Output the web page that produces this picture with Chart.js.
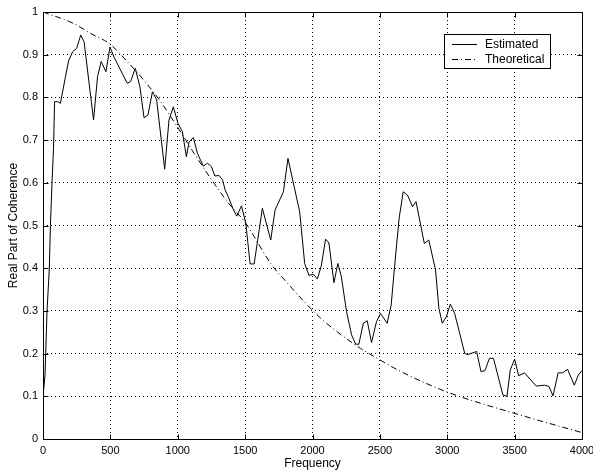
<!DOCTYPE html>
<html>
<head>
<meta charset="utf-8">
<script src="https://cdn.jsdelivr.net/npm/chart.js@4.4.0/dist/chart.umd.min.js"></script>
<style>
  html, body { margin: 0; padding: 0; background: #fff; }
  #wrap { width: 593px; height: 470px; position: relative; }
</style>
</head>
<body>
<div id="wrap"><canvas id="c" width="593" height="470"></canvas></div>
<script>
// ---- data ----
const estFreq = [0, 15, 30, 47, 55, 67, 78, 86, 110, 129, 141, 190, 220, 250, 280, 305, 375, 405, 432, 467, 497, 526, 625, 650, 685, 719, 750, 779, 812, 843, 903, 935, 967, 1002, 1034, 1064, 1084, 1116, 1146, 1190, 1220, 1250, 1275, 1307, 1332, 1352,
  1374, 1414, 1438, 1473, 1505, 1537, 1567, 1628, 1690, 1722, 1784, 1818, 1905, 1942, 1974, 2006, 2036, 2065, 2097, 2122, 2159, 2188, 2213, 2253, 2290, 2320, 2344, 2377, 2406, 2438, 2475, 2505, 2554, 2584, 2609,
  2643, 2673, 2705, 2743, 2768, 2830, 2863, 2913, 2938, 2963, 2993, 3023, 3055, 3130, 3155, 3218, 3250, 3280, 3313, 3343, 3413, 3443, 3468, 3500, 3530, 3573, 3660, 3723, 3755, 3785, 3823, 3855, 3893, 3943, 3973, 4000];
const estValue = [0.10, 0.15, 0.30, 0.40, 0.50, 0.60, 0.68, 0.79, 0.79, 0.786, 0.806, 0.886, 0.907, 0.915, 0.946, 0.93, 0.747, 0.849, 0.884, 0.86, 0.918, 0.895, 0.833, 0.837, 0.868, 0.825, 0.752, 0.759, 0.813, 0.795, 0.632, 0.747, 0.778, 0.739, 0.72, 0.661, 0.696, 0.706, 0.669, 0.639, 0.646, 0.638, 0.616, 0.617, 0.607, 0.583,
  0.568, 0.536, 0.522, 0.546, 0.505, 0.41, 0.41, 0.54, 0.466, 0.536, 0.579, 0.657, 0.532, 0.411, 0.383, 0.386, 0.375, 0.405, 0.468, 0.459, 0.366, 0.411, 0.382, 0.298, 0.244, 0.222, 0.222, 0.271, 0.277, 0.226, 0.275, 0.294, 0.271, 0.314, 0.404,
  0.517, 0.579, 0.571, 0.544, 0.556, 0.458, 0.466, 0.396, 0.306, 0.271, 0.286, 0.316, 0.294, 0.2, 0.198, 0.205, 0.158, 0.16, 0.189, 0.189, 0.103, 0.1, 0.162, 0.187, 0.148, 0.155, 0.124, 0.126, 0.123, 0.101, 0.155, 0.155, 0.163, 0.126, 0.15, 0.16];
const theoFreq = [0, 228, 352, 496, 625, 749, 873, 997, 1121, 1245, 1370, 1505, 1567, 1690, 1814, 1937, 2060, 2184, 2357, 2480, 2643, 3000, 3500, 4000];
const theoValue = [1.0, 0.973, 0.95, 0.925, 0.884, 0.84, 0.79, 0.731, 0.669, 0.61, 0.555, 0.505, 0.474, 0.411, 0.365, 0.322, 0.283, 0.251, 0.212, 0.189, 0.16, 0.11, 0.06, 0.015];
const xTicks = [0, 500, 1000, 1500, 2000, 2500, 3000, 3500, 4000];
const yTicks = [0, 0.1, 0.2, 0.3, 0.4, 0.5, 0.6, 0.7, 0.8, 0.9, 1];
const seriesLabels = ['Estimated', 'Theoretical'];
const xTitle = 'Frequency';
const yTitle = 'Real Part of Coherence';

const FONT = "'Liberation Sans', Arial, Helvetica, sans-serif";
const THEO_DASH = [6, 3, 1, 3];

const boxPlugin = {
  id: 'boxPlugin',
  afterDraw(chart) {
    const ctx = chart.ctx;
    const a = chart.chartArea;
    const xs = chart.scales.x, ys = chart.scales.y;
    const L = Math.round(a.left) + 0.5, R = Math.round(a.right) + 0.5;
    const T = Math.round(a.top) + 0.5, B = Math.round(a.bottom) + 0.5;
    ctx.save();
    ctx.strokeStyle = '#000';
    ctx.lineWidth = 1;
    ctx.setLineDash([]);
    ctx.strokeRect(L, T, R - L, B - T);
    const tl = 5;
    ctx.beginPath();
    xTicks.forEach(v => {
      const px = Math.round(xs.getPixelForValue(v)) + 0.5;
      ctx.moveTo(px, B); ctx.lineTo(px, B - tl);
      ctx.moveTo(px, T); ctx.lineTo(px, T + tl);
    });
    yTicks.forEach(v => {
      const py = Math.round(ys.getPixelForValue(v)) + 0.5;
      ctx.moveTo(L, py); ctx.lineTo(L + tl, py);
      ctx.moveTo(R, py); ctx.lineTo(R - tl, py);
    });
    ctx.stroke();

    // legend box
    const bx = 444.5, by = 34.5, bw = 106, bh = 34;
    ctx.fillStyle = '#fff';
    ctx.fillRect(bx, by, bw, bh);
    ctx.strokeRect(bx, by, bw, bh);
    const rows = [44.5, 59.5];
    chart.data.datasets.forEach((ds, i) => {
      ctx.beginPath();
      ctx.setLineDash(ds.borderDash || []);
      ctx.strokeStyle = '#000';
      ctx.moveTo(452, rows[i]); ctx.lineTo(477, rows[i]);
      ctx.stroke();
      ctx.setLineDash([]);
      ctx.fillStyle = '#000';
      ctx.font = '12px ' + FONT;
      ctx.textBaseline = 'middle';
      ctx.textAlign = 'left';
      ctx.fillText(ds.label, 485, rows[i] + 0.5);
    });
    ctx.restore();
  }
};

const ctx = document.getElementById('c').getContext('2d');
new Chart(ctx, {
  type: 'line',
  data: {
    datasets: [
      {
        label: seriesLabels[0],
        data: estFreq.map((f, i) => ({ x: f, y: estValue[i] })),
        borderColor: '#000',
        borderWidth: 1,
        pointRadius: 0,
        tension: 0,
        fill: false
      },
      {
        label: seriesLabels[1],
        data: theoFreq.map((f, i) => ({ x: f, y: theoValue[i] })),
        borderColor: '#000',
        borderWidth: 1,
        borderDash: THEO_DASH,
        pointRadius: 0,
        tension: 0.4,
        cubicInterpolationMode: 'monotone',
        fill: false
      }
    ]
  },
  options: {
    responsive: false,
    animation: false,
    devicePixelRatio: 1,
    layout: { padding: { left: 0, top: 12, right: 11, bottom: 0 } },
    plugins: {
      legend: { display: false },
      tooltip: { enabled: false }
    },
    scales: {
      x: {
        type: 'linear',
        min: 0, max: 4000,
        afterBuildTicks: s => { s.ticks = xTicks.map(v => ({ value: v })); },
        afterFit: s => { s.height = 31; s.paddingLeft = 0; s.paddingRight = 0; },
        ticks: {
          color: '#000',
          font: { family: FONT, size: 11 },
          padding: 5,
          maxRotation: 0,
          autoSkip: false,
          callback: v => String(v)
        },
        grid: { color: '#000', lineWidth: 1, drawTicks: false },
        border: { display: false, dash: [1, 3] },
        title: {
          display: true, text: xTitle, color: '#000',
          font: { family: FONT, size: 12, lineHeight: 1 },
          padding: { top: 0, bottom: 0 }
        }
      },
      y: {
        type: 'linear',
        min: 0, max: 1,
        afterBuildTicks: s => { s.ticks = yTicks.map(v => ({ value: v })); },
        afterFit: s => { s.width = 43; s.paddingTop = 0; s.paddingBottom = 0; },
        ticks: {
          color: '#000',
          font: { family: FONT, size: 11 },
          padding: 5,
          autoSkip: false,
          callback: v => String(Math.round(v * 10) / 10)
        },
        grid: { color: '#000', lineWidth: 1, drawTicks: false },
        border: { display: false, dash: [1, 3] },
        title: {
          display: true, text: yTitle, color: '#000',
          font: { family: FONT, size: 12, lineHeight: 1.2 },
          padding: { top: 6, bottom: 0 }
        }
      }
    }
  },
  plugins: [boxPlugin]
});
</script>
</body>
</html>
